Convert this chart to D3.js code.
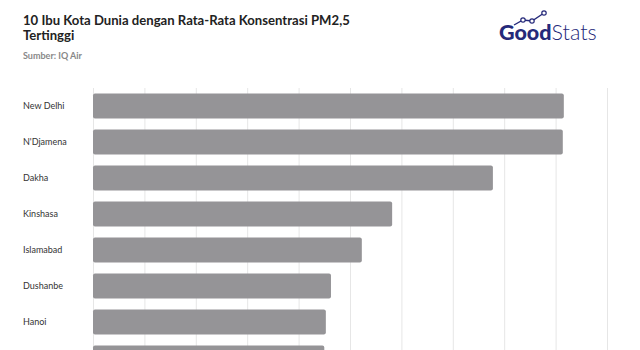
<!DOCTYPE html>
<html lang="id">
<head>
  <meta charset="utf-8">
  <title>10 Ibu Kota Dunia dengan Rata-Rata Konsentrasi PM2,5 Tertinggi</title>
  <script type="text/javascript" src="https://d3js.org/d3.v7.min.js"></script>
</head>
<style>
body {
  margin: 0;
  background: #fff;
  font-family: Lato, "Open Sans", Arial, sans-serif;
}
</style>
<body>
<script type="text/javascript">
  var w = 640;
  var h = 350;

  // data (the chart is cut off after the 8th row)
  var cities = ["New Delhi", "N'Djamena", "Dakha", "Kinshasa", "Islamabad",
                "Dushanbe", "Hanoi", "Kabul"];
  var values = [91.6, 91.4, 77.8, 58.2, 52.3, 46.3, 45.3, 45.0];
  var ticks = [0, 10, 20, 30, 40, 50, 60, 70, 80, 90, 100];

  var svg = d3.select("body")
    .append("svg")
    .attr("width", w)
    .attr("height", h);

  // title
  var t1 = svg.append("text")
    .attr("x", 23).attr("y", 25)
    .style("font-size", "15px")
    .style("font-weight", "700")
    .style("fill", "#222")
    .text("10 Ibu Kota Dunia dengan Rata-Rata Konsentrasi PM2,5");
  // fit first line to the width it has in the original
  var fs = Math.min(15, 15 * 327 / t1.node().getComputedTextLength());
  t1.style("font-size", fs + "px");
  svg.append("text")
    .attr("x", 23).attr("y", 39.5)
    .style("font-size", fs + "px")
    .style("font-weight", "700")
    .style("fill", "#222")
    .text("Tertinggi");
  svg.append("text")
    .attr("x", 23).attr("y", 59)
    .style("font-size", "9px")
    .style("font-weight", "700")
    .style("fill", "#888")
    .text("Sumber: IQ Air");

  // logo
  var logo = svg.append("g").attr("transform", "translate(499,40)");
  var lt = logo.append("text")
    .style("font-size", "21.5px")
    .style("fill", "#25297a");
  lt.append("tspan").style("font-weight", "900").text("Good");
  lt.append("tspan").style("font-weight", "300").text("Stats");
  var icon = [[15, -15], [24, -20], [33, -19], [45, -27]];
  logo.append("path")
    .attr("d", d3.line()(icon))
    .attr("fill", "none")
    .attr("stroke", "#25297a")
    .attr("stroke-width", 1.4);
  logo.selectAll("circle.ic")
    .data(icon.slice(1))
    .enter().append("circle")
    .attr("cx", function(d) { return d[0]; })
    .attr("cy", function(d) { return d[1]; })
    .attr("r", 2.2)
    .attr("fill", "#fff")
    .attr("stroke", "#25297a")
    .attr("stroke-width", 1.2);

  // scales
  var x = d3.scaleLinear().domain([0, 100]).range([93, 607]);
  var y = d3.scaleBand()
    .domain(cities)
    .range([88, 88 + 36 * cities.length])
    .paddingInner(0.306)
    .paddingOuter(0.153);

  // grid
  svg.append("g")
    .selectAll("line")
    .data(ticks)
    .enter().append("line")
    .attr("x1", function(d) { return x(d) + 0.5; })
    .attr("x2", function(d) { return x(d) + 0.5; })
    .attr("y1", 88)
    .attr("y2", h)
    .attr("stroke", "#e6e6e6")
    .attr("stroke-width", 1);

  // bars
  svg.append("g")
    .selectAll("rect")
    .data(cities)
    .enter().append("rect")
    .attr("x", x(0))
    .attr("y", function(d) { return y(d); })
    .attr("width", function(d, i) { return x(values[i]) - x(0); })
    .attr("height", y.bandwidth())
    .attr("rx", 2)
    .attr("fill", "#959497");

  // labels (only those that fall inside the visible area)
  svg.append("g")
    .selectAll("text")
    .data(cities.filter(function(d) { return y(d) + y.bandwidth() / 2 + 5 < h; }))
    .enter().append("text")
    .attr("x", 23)
    .attr("y", function(d) { return y(d) + y.bandwidth() / 2; })
    .attr("dy", "0.35em")
    .style("font-size", "9px")
    .style("fill", "#333")
    .text(function(d) { return d; });
</script>
</body>
</html>
